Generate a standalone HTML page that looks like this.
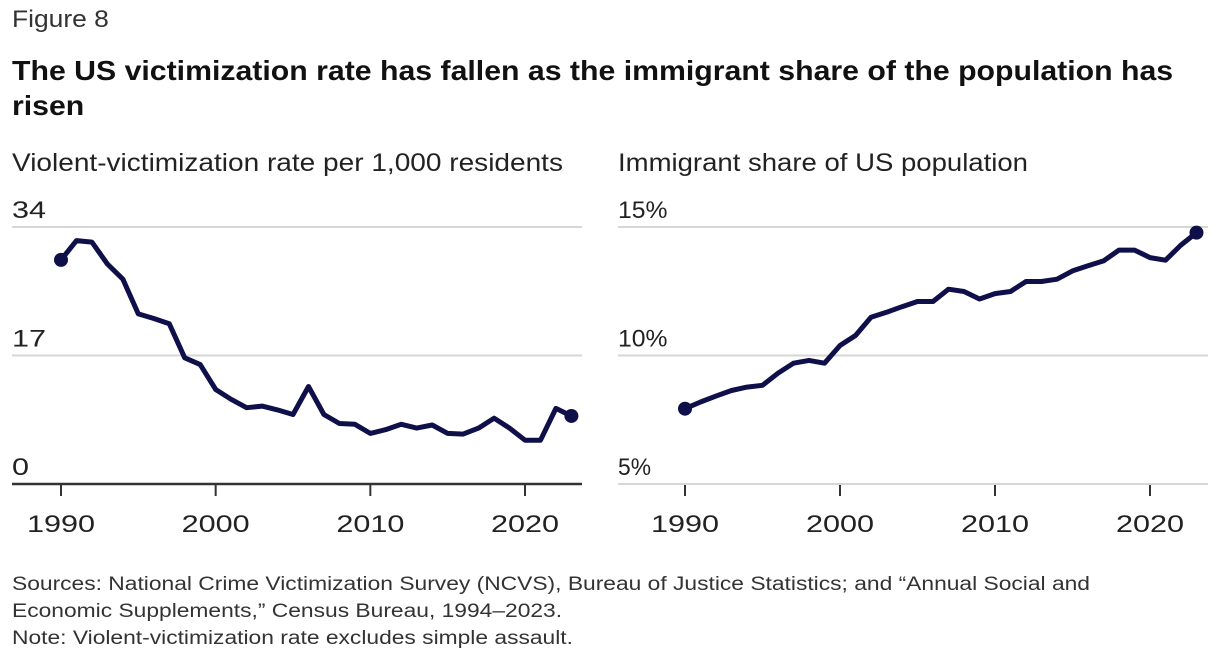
<!DOCTYPE html>
<html><head><meta charset="utf-8"><style>
body{margin:0;background:#fff;width:1220px;height:668px;overflow:hidden;font-family:"Liberation Sans",sans-serif;color:#222}
.t{position:absolute;white-space:nowrap;transform-origin:0 0}
</style></head><body>
<div class="t" style="left:12px;top:6px;font-size:24px;color:#333;transform:scaleX(1.1)">Figure 8</div>
<div class="t" style="left:12px;top:53px;font-size:28px;font-weight:bold;line-height:35px;color:#111;transform:scaleX(1.08)">The US victimization rate has fallen as the immigrant share of the population has<br>risen</div>
<svg width="1220" height="668" style="position:absolute;left:0;top:0">
<g id="left"></g>
<g id="right"></g>
</svg>
<div class="t" style="left:12px;top:571px;font-size:19px;line-height:27px;color:#333;transform:scaleX(1.2)">Sources: National Crime Victimization Survey (NCVS), Bureau of Justice Statistics; and “Annual Social and<br>Economic Supplements,” Census Bureau, 1994–2023.<br>Note: Violent-victimization rate excludes simple assault.</div>
<script>
const years=[1990,1991,1992,1993,1994,1995,1996,1997,1998,1999,2000,2001,2002,2003,2004,2005,2006,2007,2008,2009,2010,2011,2012,2013,2014,2015,2016,2017,2018,2019,2020,2021,2022,2023];
const victimRate=[29.65,32.2,32.0,29.1,27.1,22.5,21.9,21.2,16.7,15.8,12.5,11.2,10.1,10.3,9.8,9.2,12.9,9.2,8.0,7.9,6.7,7.2,7.9,7.4,7.8,6.7,6.6,7.4,8.7,7.4,5.8,5.8,10.0,9.0];
const immigrantShare=[7.93,8.19,8.42,8.64,8.77,8.84,9.31,9.70,9.81,9.70,10.39,10.78,11.49,11.68,11.90,12.10,12.10,12.58,12.49,12.20,12.41,12.49,12.88,12.88,12.97,13.29,13.49,13.68,14.10,14.10,13.81,13.71,14.30,14.78];
const xTicks=[1990,2000,2010,2020];
const leftYTicks=[0,17,34];const leftYLabels=["0","17","34"];
const rightYTicks=[5,10,15];const rightYLabels=["5%","10%","15%"];
const NS="http://www.w3.org/2000/svg";
function mk(p,tag,a){const e=document.createElementNS(NS,tag);for(const k in a)e.setAttribute(k,a[k]);p.appendChild(e);return e;}
function chart(g,o){
  const X=y=>o.x0+(y-1990)*(o.x1-o.x0)/30;
  const Y=v=>o.yb-(v-o.vmin)*(o.yb-o.yt)/(o.vmax-o.vmin);
  const st=mk(g,'text',{x:o.gl,y:171,'font-size':25,fill:'#222',textLength:o.stLen,lengthAdjust:'spacingAndGlyphs'});st.textContent=o.subtitle;
  
  
  o.yt_.forEach((v,i)=>{
    const ln=mk(g,'line',{x1:o.gl,x2:o.gr,y1:Y(v),y2:Y(v),stroke:(i==0&&o.darkBase)?'#333':'#d6d6d6','stroke-width':(i==0&&o.darkBase)?2.5:2});
    
    
    const lab=o.yl[i];
    const t=mk(g,'text',{x:o.gl,y:Y(v)-9,'font-size':24,fill:'#222',textLength:lab.length*(lab.includes('%')?16.5:17),lengthAdjust:'spacingAndGlyphs'});t.textContent=lab;
    
    
  });
  xTicks.forEach(y=>{
    const tk=mk(g,'line',{x1:X(y),x2:X(y),y1:o.yb+1,y2:o.yb+12,stroke:'#333','stroke-width':2});
    
    
    const t=mk(g,'text',{x:X(y)-34,y:o.yb+48,'font-size':24,fill:'#222',textLength:68,lengthAdjust:'spacingAndGlyphs'});t.textContent=y;
    
    
  });
  const d=o.data.map((v,i)=>(i?'L':'M')+X(years[i]).toFixed(1)+','+Y(v).toFixed(1)).join('');
  const p=mk(g,'path',{d:d,fill:'none',stroke:'#0f0f4a','stroke-width':5,'stroke-linejoin':'round'});
  
  
  [0,o.data.length-1].forEach(i=>{
    const c=mk(g,'circle',{cx:X(years[i]),cy:Y(o.data[i]),r:7,fill:'#0f0f4a'});
    
    
  });
}
chart(document.getElementById('left'),{x0:61,x1:525,gl:12,gr:582,yb:484,yt:227,vmin:0,vmax:34,yt_:leftYTicks,yl:leftYLabels,data:victimRate,subtitle:'Violent-victimization rate per 1,000 residents',stLen:551,darkBase:true});
chart(document.getElementById('right'),{x0:685,x1:1150,gl:618,gr:1208,yb:484,yt:227,vmin:5,vmax:15,yt_:rightYTicks,yl:rightYLabels,data:immigrantShare,subtitle:'Immigrant share of US population',stLen:410,darkBase:false});
</script>
</body></html>
